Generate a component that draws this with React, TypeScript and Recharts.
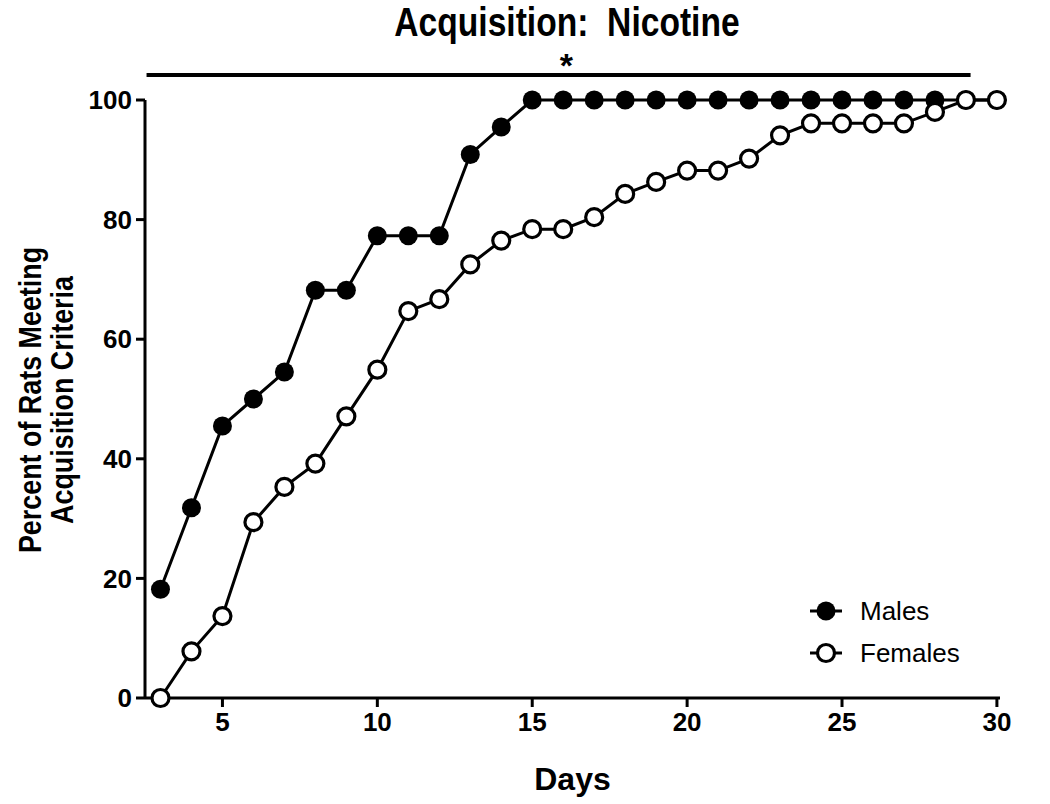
import React from 'react';
import {
  LineChart,
  Line,
  XAxis,
  YAxis,
  Legend,
  Label,
  ReferenceLine,
  ReferenceDot,
} from 'recharts';

const days = [3, 4, 5, 6, 7, 8, 9, 10, 11, 12, 13, 14, 15, 16, 17, 18, 19, 20, 21, 22, 23, 24, 25, 26, 27, 28, 29, 30];
const males = [18.2, 31.8, 45.5, 50, 54.5, 68.2, 68.2, 77.3, 77.3, 77.3, 90.9, 95.5, 100, 100, 100, 100, 100, 100, 100, 100, 100, 100, 100, 100, 100, 100, 100, 100];
const females = [0, 7.8, 13.7, 29.4, 35.3, 39.2, 47.1, 54.9, 64.7, 66.7, 72.5, 76.5, 78.4, 78.4, 80.4, 84.3, 86.3, 88.2, 88.2, 90.2, 94.1, 96.1, 96.1, 96.1, 96.1, 98.0, 100, 100];
const xTicks = [5, 10, 15, 20, 25, 30];
const yTicks = [0, 20, 40, 60, 80, 100];
const seriesNames = ['Males', 'Females'];

// significance bar spans day 2.55 -> 29.15, star over the middle
const sigBarY = 104.2;
const sigBarStart = 2.55;
const sigBarEnd = 29.15;
const sigStarX = 16.1;

const data = days.map((day, i) => ({ day, males: males[i], females: females[i] }));

const SANS = '"Liberation Sans", Arial, sans-serif';

const FilledDot = (props: any) => {
  const { cx, cy } = props;
  if (cx == null || cy == null) return null;
  return <circle cx={cx} cy={cy} r={9.5} fill="#000" stroke="none" />;
};

const OpenDot = (props: any) => {
  const { cx, cy } = props;
  if (cx == null || cy == null) return null;
  return <circle cx={cx} cy={cy} r={8.5} fill="#fff" stroke="#000" strokeWidth={3.2} />;
};

const LegendBox = () => (
  <div style={{ fontFamily: SANS, fontSize: 26, color: '#000' }}>
    {seriesNames.map((name, i) => (
      <div key={name} style={{ display: 'flex', alignItems: 'center', height: 42 }}>
        <svg width={40} height={24} style={{ marginRight: 14 }}>
          <line x1={4} y1={12} x2={36} y2={12} stroke="#000" strokeWidth={3} />
          {i === 0 ? (
            <circle cx={20} cy={12} r={9.5} fill="#000" />
          ) : (
            <circle cx={20} cy={12} r={8.5} fill="#fff" stroke="#000" strokeWidth={3.2} />
          )}
        </svg>
        <span>{name}</span>
      </div>
    ))}
  </div>
);

export default function App() {
  return (
    <div style={{ position: 'absolute', left: 0, top: 0, width: 1050, height: 804, background: '#fff' }}>
      <LineChart
        width={1050}
        height={804}
        data={data}
        margin={{ top: 100, right: 50, left: 0, bottom: 0 }}
        style={{ position: 'absolute', left: 0, top: 0 }}
      >
        <XAxis
          dataKey="day"
          type="number"
          domain={[2.5, 30.1]}
          ticks={xTicks}
          height={106}
          axisLine={{ stroke: '#000', strokeWidth: 3 }}
          tickLine={{ stroke: '#000', strokeWidth: 3 }}
          tickSize={9}
          tickMargin={6}
          tick={{ fill: '#000', fontSize: 26, fontWeight: 'bold', fontFamily: SANS }}
        >
          <Label
            value="Days"
            position="insideBottom"
            offset={14}
            style={{ fill: '#000', fontSize: 32, fontWeight: 'bold', fontFamily: SANS }}
          />
        </XAxis>
        <YAxis
          type="number"
          domain={[0, 100]}
          ticks={yTicks}
          width={145}
          axisLine={{ stroke: '#000', strokeWidth: 3 }}
          tickLine={{ stroke: '#000', strokeWidth: 3 }}
          tickSize={9}
          tickMargin={4}
          tick={{ fill: '#000', fontSize: 26, fontWeight: 'bold', fontFamily: SANS }}
        />
        <ReferenceLine
          segment={[
            { x: sigBarStart, y: sigBarY },
            { x: sigBarEnd, y: sigBarY },
          ]}
          stroke="#000"
          strokeWidth={4}
          ifOverflow="visible"
        />
        <ReferenceDot
          x={sigStarX}
          y={sigBarY}
          r={0}
          ifOverflow="visible"
          label={{ value: '*', position: 'top', offset: -2, fill: '#000', fontSize: 34, fontWeight: 'bold', fontFamily: SANS }}
        />
        <Legend
          layout="horizontal"
          verticalAlign="middle"
          align="center"
          content={<LegendBox />}
          wrapperStyle={{ left: 806, top: 590, width: 220 }}
        />
        <Line
          type="linear"
          dataKey="males"
          name="Males"
          stroke="#000"
          strokeWidth={3}
          dot={<FilledDot />}
          isAnimationActive={false}
        />
        <Line
          type="linear"
          dataKey="females"
          name="Females"
          stroke="#000"
          strokeWidth={3}
          dot={<OpenDot />}
          isAnimationActive={false}
        />
      </LineChart>
      <div
        style={{
          position: 'absolute',
          left: 567,
          top: 0,
          transform: 'translateX(-50%) scaleX(0.84)',
          fontFamily: SANS,
          fontWeight: 'bold',
          fontSize: 40,
          lineHeight: '44px',
          whiteSpace: 'pre',
          color: '#000',
        }}
      >
        {'Acquisition:  Nicotine'}
      </div>
      <div
        style={{
          position: 'absolute',
          left: 46,
          top: 400,
          transform: 'translate(-50%, -50%) rotate(-90deg) scaleX(0.84)',
          fontFamily: SANS,
          fontWeight: 'bold',
          fontSize: 32,
          lineHeight: '32px',
          textAlign: 'center',
          whiteSpace: 'nowrap',
          color: '#000',
        }}
      >
        Percent of Rats Meeting
        <br />
        Acquisition Criteria
      </div>
    </div>
  );
}
